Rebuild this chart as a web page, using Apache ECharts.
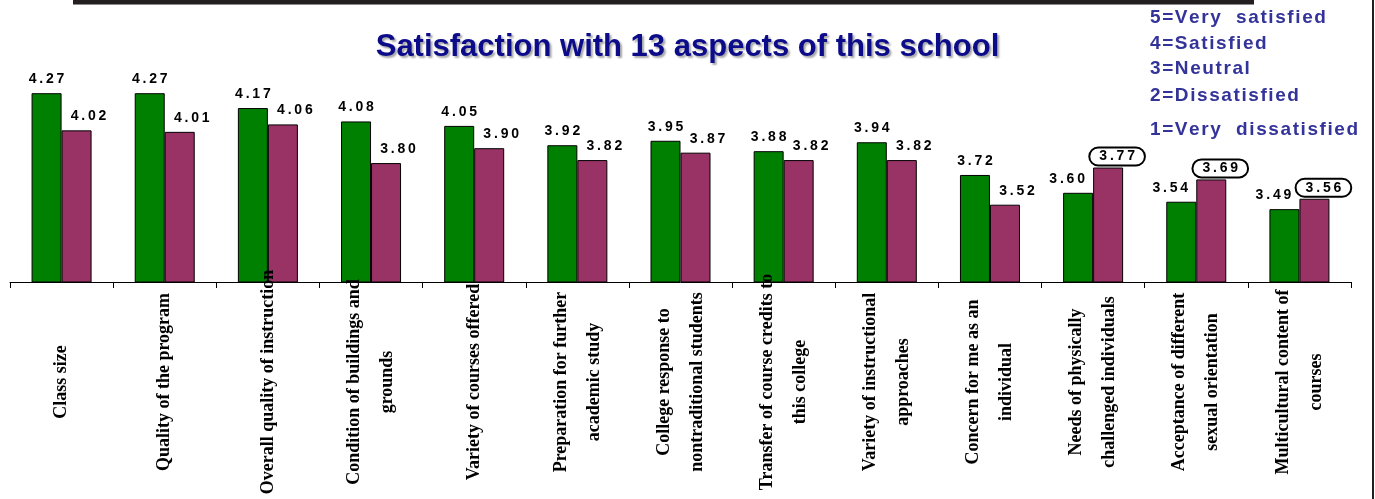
<!DOCTYPE html>
<html>
<head>
    <meta charset="UTF-8">
    <title>Satisfaction with 13 aspects of this school</title>
    <style type="text/css">
        html, body {
            margin: 0;
            padding: 0;
            background: #fff;
        }
        #chart {
            width: 1375px;
            height: 499px;
        }
    </style>
    <script type="text/javascript" src="https://cdn.jsdelivr.net/npm/echarts@6/dist/echarts.min.js"></script>
</head>
<body>
<div id="chart"></div>
<script>
    // chart data
    var categories = [
        'Class size',
        'Quality of the program',
        'Overall quality of instruction',
        'Condition of buildings and\ngrounds',
        'Variety of courses offered',
        'Preparation for further\nacademic study',
        'College response to\nnontraditional students',
        'Transfer of course credits to\nthis college',
        'Variety of instructional\napproaches',
        'Concern for me as an\nindividual',
        'Needs of physically\nchallenged individuals',
        'Acceptance of different\nsexual orientation',
        'Multicultural content of\ncourses'
    ];
    var greenValues = [4.27, 4.27, 4.17, 4.08, 4.05, 3.92, 3.95, 3.88, 3.94, 3.72, 3.60, 3.54, 3.49];
    var maroonValues = [4.02, 4.01, 4.06, 3.80, 3.90, 3.82, 3.87, 3.82, 3.82, 3.52, 3.77, 3.69, 3.56];
    var circled = [10, 11, 12];
    var scaleLines = [
        '5=Very  satisfied',
        '4=Satisfied',
        '3=Neutral',
        '2=Dissatisfied',
        '1=Very  dissatisfied'
    ];

    function spaced(str, sep) {
        return str.split('').join(sep);
    }

    var labelFont = {
        color: '#000',
        fontFamily: 'Liberation Sans',
        fontWeight: 'bold',
        fontSize: 14
    };

    var greenData = greenValues.map(function (v, i) {
        var item = {value: v};
        if (circled.indexOf(i) >= 0) {
            item.label = {offset: [-11, 0]};
        }
        return item;
    });
    var maroonData = maroonValues.map(function (v, i) {
        var item = {value: v};
        if (circled.indexOf(i) >= 0) {
            item.label = {
                offset: [9, 0],
                distance: 2,
                borderColor: '#000',
                borderWidth: 2,
                borderRadius: 12,
                padding: [2, 10, 2, 10]
            };
        }
        return item;
    });

    var titles = [{
        text: 'Satisfaction with 13 aspects of this school',
        left: 'center',
        top: 27,
        textStyle: {
            color: '#0c0c8a',
            fontFamily: 'Liberation Sans',
            fontWeight: 'bold',
            fontSize: 31,
            textShadowColor: 'rgba(0,0,0,0.35)',
            textShadowOffsetX: 2,
            textShadowOffsetY: 2,
            textShadowBlur: 2
        }
    }];
    var scaleTops = [8, 34, 59, 86, 120];
    scaleLines.forEach(function (line, i) {
        titles.push({
            text: spaced(line, '\u200A'),
            left: 1150,
            top: scaleTops[i],
            padding: 0,
            textStyle: {
                color: '#333399',
                fontFamily: 'Liberation Sans',
                fontWeight: 'bold',
                fontSize: 19
            }
        });
    });

    var myChart = echarts.init(document.getElementById('chart'), null, {renderer: 'canvas'});
    myChart.setOption({
        animation: false,
        backgroundColor: '#fff',
        title: titles,
        graphic: [
            {type: 'rect', shape: {x: 73, y: 0, width: 1181, height: 4}, style: {fill: '#231f20'}},
            {type: 'rect', shape: {x: 73, y: 4, width: 1181, height: 1}, style: {fill: '#8a8a8a'}},
            {type: 'rect', shape: {x: 1372, y: 0, width: 2, height: 499}, style: {fill: '#231f20'}}
        ],
        grid: {
            left: 10,
            right: 24,
            top: 59,
            bottom: 217,
            containLabel: false
        },
        xAxis: {
            type: 'category',
            data: categories,
            boundaryGap: true,
            z: 5,
            axisLine: {lineStyle: {color: '#000', width: 1}},
            axisTick: {show: true, length: 6, interval: 0, lineStyle: {color: '#000'}},
            axisLabel: {
                interval: 0,
                rotate: 90,
                align: 'center',
                verticalAlign: 'middle',
                margin: 100,
                hideOverlap: false,
                color: '#000',
                fontFamily: 'Liberation Serif',
                fontWeight: 'bold',
                fontSize: 18,
                lineHeight: 33
            }
        },
        yAxis: {
            type: 'value',
            min: 3,
            max: 4.5,
            show: false,
            splitLine: {show: false}
        },
        series: [
            {
                name: 'green',
                type: 'bar',
                data: greenData,
                barWidth: 30,
                barGap: '0%',
                itemStyle: {color: '#008000', borderColor: '#000', borderWidth: 1},
                label: Object.assign({
                    show: true,
                    position: 'top',
                    distance: 7,
                    formatter: function (p) {
                        return spaced(p.value.toFixed(2), '\u2009');
                    }
                }, labelFont)
            },
            {
                name: 'maroon',
                type: 'bar',
                data: maroonData,
                barWidth: 30,
                barGap: '0%',
                itemStyle: {color: '#993366', borderColor: '#000', borderWidth: 1},
                label: Object.assign({
                    show: true,
                    position: 'top',
                    distance: 7,
                    offset: [12, 0],
                    formatter: function (p) {
                        return spaced(p.value.toFixed(2), '\u2009');
                    }
                }, labelFont)
            }
        ]
    });
</script>
</body>
</html>
